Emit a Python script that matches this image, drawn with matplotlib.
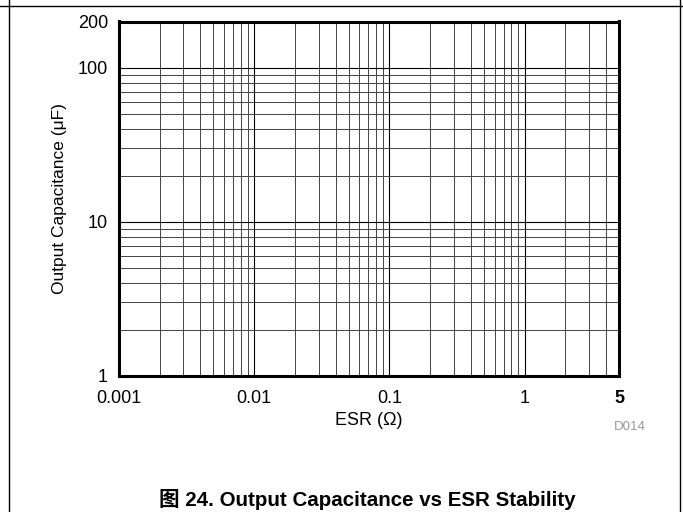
import matplotlib
matplotlib.use("Agg")
import matplotlib.pyplot as plt
from matplotlib.lines import Line2D
from matplotlib.ticker import FixedLocator, LogLocator, NullFormatter

plt.rcParams['font.family'] = ['Liberation Sans', 'Noto Sans CJK SC', 'DejaVu Sans']

# axis ranges and ticks
esr_range = [0.001, 5]
cap_range = [1, 200]
x_ticks = [0.001, 0.01, 0.1, 1, 5]
x_labels = ["0.001", "0.01", "0.1", "1", "5"]
y_ticks = [1, 10, 100, 200]
y_labels = ["1", "10", "100", "200"]

W, H = 683, 512
fig = plt.figure(figsize=(6.83, 5.12), dpi=100)
ax = fig.add_axes([119 / W, 1 - 376 / H, 500 / W, 354.5 / H])
ax.set_xscale("log")
ax.set_yscale("log")
ax.set_xlim(esr_range)
ax.set_ylim(cap_range)

ax.xaxis.set_major_locator(FixedLocator(x_ticks))
ax.set_xticklabels(x_labels)
ax.yaxis.set_major_locator(FixedLocator(y_ticks))
ax.set_yticklabels(y_labels)
ax.xaxis.set_minor_locator(LogLocator(base=10, subs=range(2, 10)))
ax.yaxis.set_minor_locator(LogLocator(base=10, subs=range(2, 10)))
ax.xaxis.set_minor_formatter(NullFormatter())
ax.yaxis.set_minor_formatter(NullFormatter())
ax.get_xticklabels()[-1].set_fontweight("bold")

ax.tick_params(which="both", length=0, labelsize=13)
ax.tick_params(axis="x", pad=10)
ax.tick_params(axis="y", pad=8)
ax.grid(which="major", color="black", lw=0.8)
ax.grid(which="minor", color="#444444", lw=0.7)
for s in ax.spines.values():
    s.set_linewidth(2.2)

ax.set_xlabel("ESR (\u03a9)", fontsize=13, labelpad=4)
ax.set_ylabel("Output Capacitance (\u03bcF)", fontsize=12.5, labelpad=8)

fig.text(630 / W, 1 - 427 / H, "D014", fontsize=9.5, color="#999999", ha="center", va="center")
fig.text(367 / W, 1 - 499 / H, "图 24. Output Capacitance vs ESR Stability",
         fontsize=14.8, fontweight="bold", ha="center", va="center")

# page frame lines
fig.add_artist(Line2D([9 / W, 9 / W], [0, 1], color="black", lw=1))
fig.add_artist(Line2D([680 / W, 680 / W], [0, 1], color="black", lw=1))
fig.add_artist(Line2D([0, 1], [1 - 6 / H, 1 - 6 / H], color="black", lw=1))

fig.savefig("out.png", dpi=100)
